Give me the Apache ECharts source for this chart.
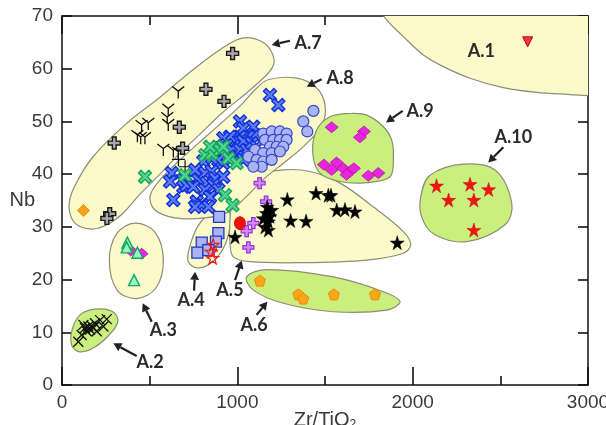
<!DOCTYPE html>
<html>
<head>
<meta charset="utf-8">
<script src="https://cdn.jsdelivr.net/npm/echarts@6/dist/echarts.min.js"></script>
<style>
  html, body { margin: 0; background: #fff; }
  #chart { width: 606px; height: 425px; }
</style>
</head>
<body>
<div id="chart"></div>
<script>
// Nb vs Zr/TiO2 with the fields A.1 - A.10

var xTicks = [0, 1000, 2000, 3000];
var yTicks = [0, 10, 20, 30, 40, 50, 60, 70];

// field outlines, [Zr/TiO2, Nb]
var fieldA1 = [[1833, 70.1], [1947, 66.1], [2061, 62.6], [2175, 60.4], [2327, 58.2], [2517, 56.4], [2707, 55.5], [2897, 55.1], [3000, 54.9], [3150, 54.9], [3150, 76], [1760, 76]];
var fieldA2 = [[57, 10.4], [103, 13.3], [188, 14.4], [285, 14.0], [319, 12.3], [285, 10.1], [188, 7.2], [103, 6.3], [57, 7.4]];
var fieldA3 = [[270, 23.7], [314, 28.8], [416, 30.7], [530, 29.0], [578, 23.7], [536, 18.4], [426, 16.4], [314, 18.0]];
var fieldA4 = [[943, 33.2], [964, 31.7], [930, 26.6], [856, 23.3], [770, 22.2], [719, 23.5], [730, 26.4], [776, 30.2], [861, 33.0]];
var fieldA5 = [[977, 36.4], [1091, 39.5], [1262, 40.8], [1414, 40.5], [1586, 38.3], [1775, 33.8], [1947, 29.1], [1989, 26.6], [1947, 25.0], [1738, 23.7], [1357, 23.2], [1072, 23.4], [977, 24.3], [958, 26.9], [958, 31.3]];
var fieldA6 = [[1053, 20.5], [1168, 21.9], [1547, 20.5], [1833, 17.7], [1928, 15.8], [1852, 14.2], [1547, 13.9], [1262, 15.5], [1091, 18.0]];
var fieldA7 = [[1027, 65.8], [1141, 65.1], [1203, 62.6], [1198, 60.1], [1084, 56.3], [913, 51.6], [787, 47.6], [673, 44.0], [559, 40.0], [445, 36.2], [342, 32.4], [245, 30.2], [160, 29.6], [74, 30.7], [40, 33.8], [68, 37.4], [177, 43.3], [371, 49.7], [559, 54.6], [747, 59.8], [901, 63.6]];
var fieldA8 = [[1175, 57.9], [1340, 58.2], [1454, 56.3], [1500, 53.1], [1483, 49.3], [1386, 45.5], [1272, 42.3], [1158, 39.3], [1044, 35.5], [947, 32.8], [816, 31.7], [644, 31.7], [530, 33.2], [502, 35.7], [548, 38.5], [673, 42.7], [844, 47.8], [1015, 52.9], [1101, 56.0]];
var fieldA9 = [[1643, 51.5], [1738, 51.2], [1833, 49.0], [1880, 46.5], [1890, 43.3], [1871, 39.5], [1738, 38.4], [1586, 38.6], [1471, 40.2], [1430, 44.0], [1453, 48.4], [1529, 50.9]];
var fieldA10 = [[2046, 35.7], [2099, 39.8], [2289, 41.9], [2470, 40.8], [2565, 34.5], [2527, 30.4], [2308, 27.2], [2127, 28.5], [2053, 31.7]];

var fieldNames = ['A.1', 'A.2', 'A.3', 'A.4', 'A.5', 'A.6', 'A.7', 'A.8', 'A.9', 'A.10'];
var fieldLabelAt = [[2392, 63.4], [502, 4.4], [578, 10.4], [736, 16.1], [958, 18.0], [1095, 11.4], [1403, 64.8], [1586, 58.2], [2042, 51.9], [2574, 47.0]];
var arrowFrom = [[426, 5.5], [512, 12.0], [753, 17.9], [987, 19.9], [1110, 13.3], [1300, 65.3], [1481, 58.0], [1943, 52.0], [2517, 45.1]];
var arrowTo = [[293, 7.9], [460, 15.5], [759, 21.5], [1025, 23.6], [1171, 15.8], [1196, 64.5], [1396, 56.6], [1848, 49.8], [2431, 42.2]];

// samples
var blackTri = [[663, 55.5], [606, 52.2], [600, 50.6], [606, 49.3], [454, 49.1], [492, 49.5], [430, 47.2], [449, 46.8], [473, 46.8], [578, 44.6], [635, 44.3], [663, 44.0]];
var grayPlus = [[973, 62.9], [821, 56.1], [924, 53.8], [669, 48.9], [298, 45.9], [688, 44.9], [272, 32.5], [256, 31.6]];
var thinPlus = [[664, 42.8], [702, 41.4]];
var orangeDiamond = [[122, 33.1]];
var blueX = [[1186, 55.0], [1234, 53.1], [1015, 50.0], [1034, 48.7], [1091, 49.0], [1101, 47.4], [1063, 47.1], [1015, 47.1], [987, 46.5], [1034, 46.2],
  [958, 47.1], [920, 46.8], [939, 45.5], [901, 44.9], [873, 44.6], [930, 44.0], [968, 44.6], [1015, 44.6], [1053, 44.6], [1082, 45.9],
  [1110, 45.2], [996, 43.3], [1034, 42.7], [958, 42.7], [920, 42.1], [892, 42.7], [854, 43.0], [806, 42.4], [759, 40.8], [626, 40.2],
  [616, 38.6], [692, 38.9], [740, 37.9], [692, 37.6], [778, 38.9], [816, 40.2], [854, 40.5], [873, 39.2], [920, 39.5], [825, 38.3],
  [863, 37.9], [816, 37.0], [892, 37.0], [844, 35.7], [768, 34.8], [797, 34.2], [835, 33.8], [759, 33.8], [635, 35.1], [711, 37.9], [749, 37.6]];
var greenX = [[473, 39.5], [816, 43.6], [854, 43.9], [901, 44.6], [844, 45.2], [920, 45.2], [949, 43.0], [996, 42.1], [701, 39.8], [930, 36.0], [973, 34.1]];
var blueCircle = [[1434, 52.0], [1376, 50.0], [1399, 48.1], [1148, 47.7], [1196, 48.1], [1243, 48.1], [1281, 47.7], [1158, 46.5], [1205, 46.5], [1243, 46.5],
  [1281, 46.5], [1186, 45.2], [1224, 45.2], [1262, 45.2], [1101, 44.6], [1148, 44.0], [1196, 44.0], [1243, 44.3], [1063, 43.3], [1110, 42.7],
  [1148, 42.4], [1196, 42.7], [1139, 41.4], [1091, 41.4]];
var blueSquare = [[896, 31.9], [892, 28.8], [878, 27.2], [797, 27.0], [772, 25.1], [835, 25.6]];
var redOpenStar = [[862, 26.6], [851, 25.3], [859, 24.1]];
var redDot = [[1015, 30.7]];
var purplePlus = [[1127, 38.3], [1164, 34.8], [1091, 30.7], [1053, 29.2], [1063, 26.1]];
var blackStar = [[1285, 35.2], [1449, 36.4], [1519, 36.0], [1534, 36.0], [1567, 33.2], [1614, 33.3], [1671, 32.9], [1912, 27.0], [1304, 31.2], [1392, 31.1],
  [1167, 32.6], [1196, 33.2], [1148, 31.6], [1177, 31.0], [1158, 30.0], [1177, 29.4], [987, 28.1], [1186, 32.0], [1170, 33.8]];
var magentaDiamond = [[1538, 48.9], [1722, 48.1], [1699, 47.0], [1494, 41.8], [1566, 42.2], [1538, 40.8], [1604, 41.1], [1642, 40.5], [1665, 41.1], [1747, 39.7],
  [1804, 40.2], [1623, 39.9], [454, 24.9], [392, 25.5]];
var redStar = [[2136, 37.8], [2327, 38.1], [2433, 37.1], [2205, 35.1], [2349, 35.1], [2349, 29.4]];
var greenTriangle = [[373, 27.0], [369, 26.1], [430, 25.1], [411, 19.9]];
var blackCross = [[93, 8.2], [112, 9.5], [131, 10.8], [150, 11.1], [169, 11.2], [179, 10.8], [160, 10.5], [141, 10.2], [188, 11.7], [198, 10.2],
  [236, 11.1], [255, 12.5], [217, 12.3], [122, 11.4]];
var orangePentagon = [[1129, 19.8], [1348, 17.2], [1376, 16.4], [1551, 17.2], [1785, 17.2]];
var redTriangle = [[2656, 65.1]];

var YELLOW = '#fcfacb', GREEN = '#cbef7e';
var fields = [
  [fieldA1, YELLOW], [fieldA2, GREEN], [fieldA3, YELLOW], [fieldA4, YELLOW], [fieldA5, YELLOW],
  [fieldA6, GREEN], [fieldA7, YELLOW], [fieldA8, YELLOW], [fieldA9, GREEN], [fieldA10, GREEN]
];

var STAR = 'path://M50,0 L61,35 L98,35 L68,57 L79,91 L50,70 L21,91 L32,57 L2,35 L39,35 Z';
var PENTA = 'path://M50,0 L100,38 L81,100 L19,100 L0,38 Z';
var PLUS = 'path://M34,0 H66 V34 H100 V66 H66 V100 H34 V66 H0 V34 H34 Z';
var XMARK = 'path://M20,0 L50,30 L80,0 L100,20 L70,50 L100,80 L80,100 L50,70 L20,100 L0,80 L30,50 L0,20 Z';
var TRI_Y = 'path://M50,50 L50,100 M50,50 L4,18 M50,50 L96,18';
var THIN_X = 'path://M0,0 L100,100 M100,0 L0,100';
var THIN_P = 'path://M50,0 L50,100 M0,50 L100,50';
var TRI_DOWN = 'path://M0,0 L100,0 L50,90 Z';

var chart = echarts.init(document.getElementById('chart'));

function fieldSeries(pts, fill) {
  return {
    type: 'custom',
    silent: true,
    z: 1,
    data: [pts[0]],
    renderItem: function (params, api) {
      var cs = params.coordSys;
      return {
        type: 'polygon',
        shape: { points: pts.map(function (p) { return api.coord(p); }), smooth: 0.35 },
        style: { fill: fill, stroke: '#8d8d74', lineWidth: 1.2 },
        clipPath: { type: 'rect', shape: { x: cs.x, y: cs.y, width: cs.width, height: cs.height } }
      };
    }
  };
}

function scatter(data, symbol, size, fill, stroke, bw) {
  return {
    type: 'scatter',
    data: data,
    symbol: symbol,
    symbolSize: size,
    z: 5,
    silent: true,
    itemStyle: { color: fill, borderColor: stroke, borderWidth: bw, opacity: 1 }
  };
}

var series = fields.map(function (f) { return fieldSeries(f[0], f[1]); });

series.push(
  scatter(blackTri, TRI_Y, 12, 'none', '#111', 1.3),
  scatter(grayPlus, PLUS, 12, '#a8a8a8', '#1a1a1a', 1.4),
  scatter(thinPlus, THIN_P, 13, 'none', '#111', 1.2),
  scatter(orangeDiamond, 'diamond', 12, '#f7a21d', '#f08a00', 1),
  scatter(blueX, XMARK, 13, '#5f7df2', '#1030d8', 1.4),
  scatter(greenX, XMARK, 13, '#4fd68e', '#17a45a', 1.3),
  scatter(blueCircle, 'circle', 11, '#aab4f2', '#3344cc', 1.2),
  scatter(blueSquare, 'rect', 11, '#aab4f2', '#2236c4', 1.3),
  scatter(redOpenStar, STAR, 12, 'rgba(255,255,255,0)', '#e81c1c', 1.2),
  scatter(purplePlus, PLUS, 11, '#cf8cf7', '#9a2fe0', 1.2),
  scatter(redDot, 'circle', [11, 13], '#ee1111', '#d00000', 0.8),
  scatter(blackStar, STAR, 14, '#000', '#000', 0.5),
  scatter(magentaDiamond, 'diamond', [13, 11], '#e824dc', '#b010b0', 0.8),
  scatter(redStar, STAR, 14, '#ee1515', '#d00000', 0.5),
  scatter(greenTriangle, 'triangle', 11, '#9cf0c6', '#0fad5e', 1.4),
  scatter(blackCross, THIN_X, 10, 'none', '#111', 1.3),
  scatter(orangePentagon, PENTA, 11, '#f9a61a', '#ee8a00', 1),
  scatter(redTriangle, TRI_DOWN, 10, '#f03a3a', '#c80000', 1)
);

// arrows pointing at the fields
series.push({
  type: 'custom',
  silent: true,
  z: 6,
  data: arrowTo,
  renderItem: function (params, api) {
    var i = params.dataIndex;
    var a = api.coord(arrowFrom[i]);
    var b = api.coord(arrowTo[i]);
    var dx = b[0] - a[0], dy = b[1] - a[1];
    var len = Math.sqrt(dx * dx + dy * dy);
    var ux = dx / len, uy = dy / len;
    var hl = 8, hw = 4.5;
    var bx = b[0] - ux * hl, by = b[1] - uy * hl;
    return {
      type: 'group',
      children: [
        { type: 'line', shape: { x1: a[0], y1: a[1], x2: bx, y2: by }, style: { stroke: '#222', lineWidth: 2.2 } },
        { type: 'polygon', shape: { points: [[b[0], b[1]], [bx - uy * hw, by + ux * hw], [bx + uy * hw, by - ux * hw]] }, style: { fill: '#222' } }
      ]
    };
  }
});

// field names
series.push({
  type: 'custom',
  silent: true,
  z: 6,
  data: fieldLabelAt,
  renderItem: function (params, api) {
    var p = api.coord(fieldLabelAt[params.dataIndex]);
    return {
      type: 'text',
      x: p[0],
      y: p[1],
      style: {
        text: fieldNames[params.dataIndex],
        fill: '#2b2b2b',
        font: 'bold 18px Lato',
        align: 'center',
        verticalAlign: 'middle'
      }
    };
  }
});

function frameAxis(pos, ticks, tickLen, minor, labels) {
  var ax = {
    type: 'value',
    min: ticks[0],
    max: ticks[ticks.length - 1],
    interval: ticks[1] - ticks[0],
    position: pos,
    axisLine: { show: true, onZero: false, lineStyle: { color: '#111', width: 1.5 } },
    axisTick: { show: true, inside: true, length: tickLen, lineStyle: { color: '#111', width: 1.6 } },
    splitLine: { show: false },
    axisLabel: labels ? {
      show: true, fontSize: 19, color: '#3a3a3a', fontFamily: 'Liberation Sans', margin: 8,
      formatter: function (v) { return String(v); }
    } : { show: false }
  };
  if (minor) {
    ax.minorTick = { show: true, splitNumber: 2, length: 9, lineStyle: { color: '#111', width: 1.6 } };
  }
  return ax;
}

var xBottom = frameAxis('bottom', xTicks, 18, true, true);
xBottom.name = 'Zr/TiO{s|2}';
xBottom.nameLocation = 'middle';
xBottom.nameGap = 24;
xBottom.nameMoveOverlap = false;
xBottom.nameTextStyle = {
  fontSize: 20, color: '#3a3a3a', fontFamily: 'Liberation Sans',
  rich: { s: { fontSize: 12, color: '#3a3a3a', fontFamily: 'Liberation Sans', padding: [10, 0, 0, 0] } }
};
var yLeft = frameAxis('left', yTicks, 10, false, true);
yLeft.axisLabel.margin = 9;
yLeft.name = 'Nb';
yLeft.nameLocation = 'middle';
yLeft.nameRotate = 0;
yLeft.nameGap = 27;
yLeft.nameMoveOverlap = false;
yLeft.nameTextStyle = { fontSize: 20, color: '#3a3a3a', fontFamily: 'Liberation Sans', align: 'right', verticalAlign: 'middle' };

chart.setOption({
  animation: false,
  grid: { left: 62, right: 18, top: 16, bottom: 40, outerBoundsMode: 'none' },
  xAxis: [xBottom, frameAxis('top', xTicks, 18, true, false)],
  yAxis: [yLeft, frameAxis('right', yTicks, 10, false, false)],
  series: series
});
</script>
</body>
</html>
